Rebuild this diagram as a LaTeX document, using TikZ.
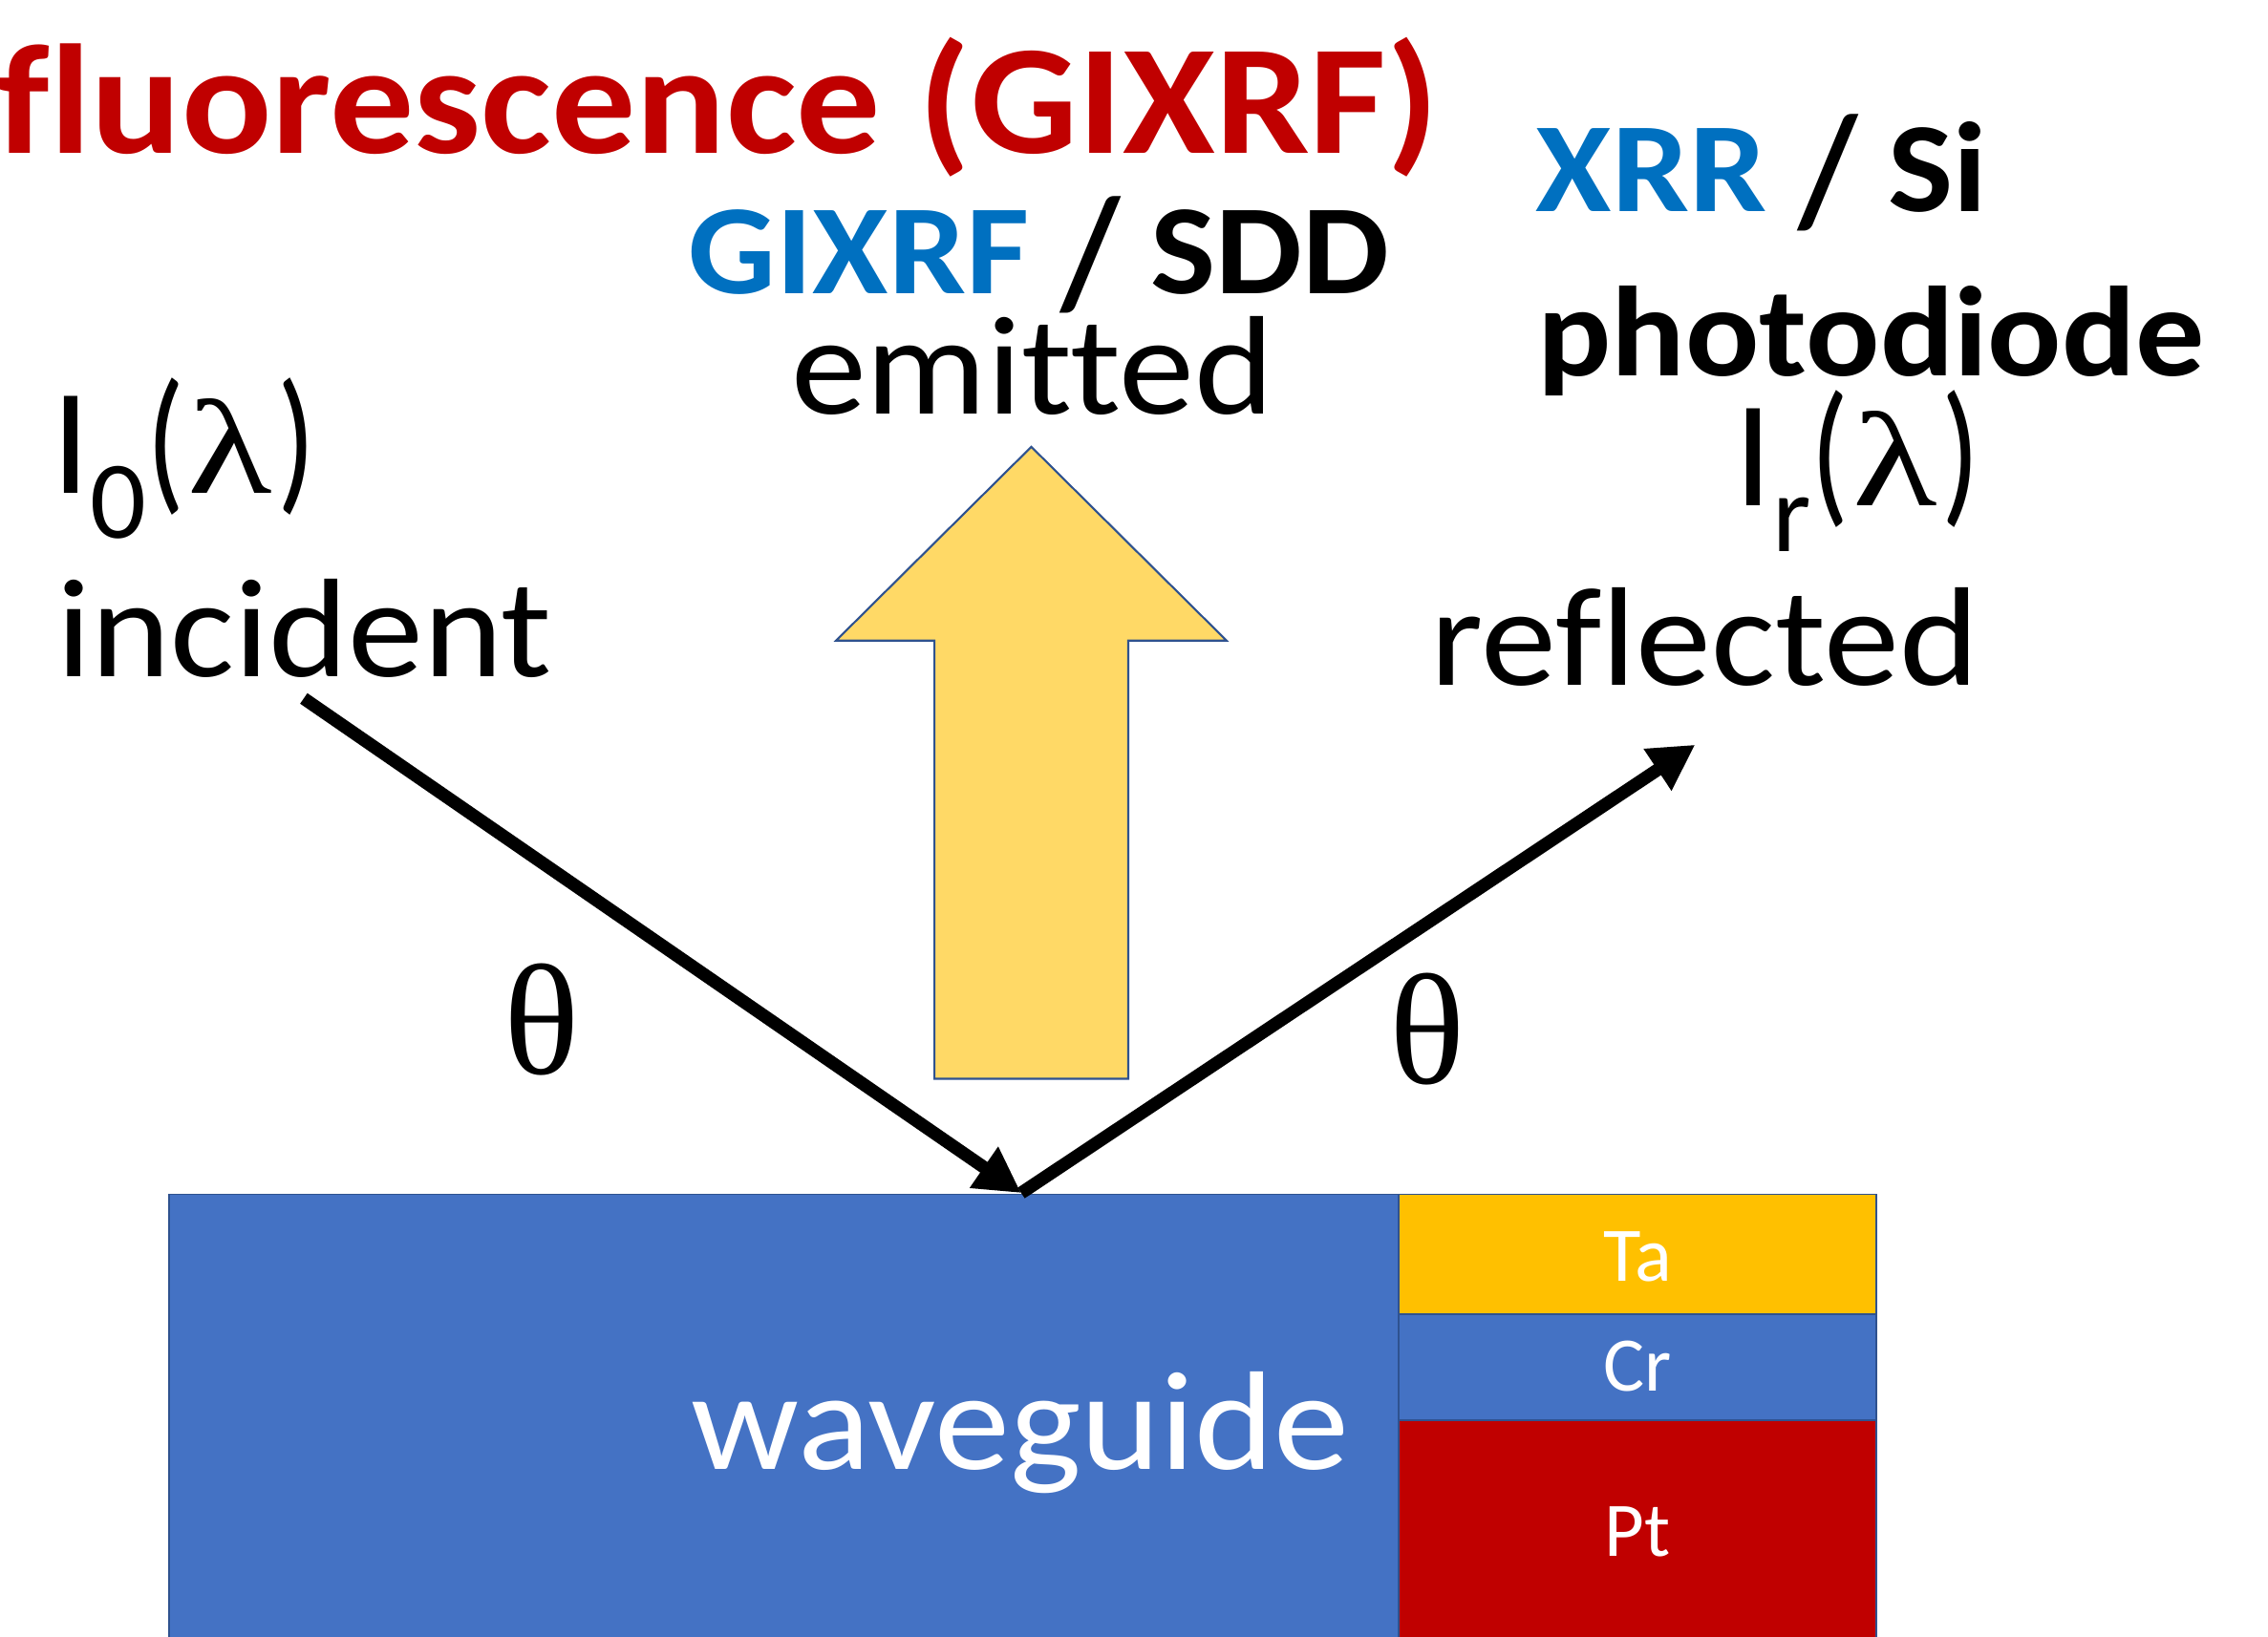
\documentclass[tikz,border=0pt]{standalone}
\usepackage{graphicx}
\usepackage{fontspec}
\setmainfont{Carlito}[Ligatures=NoCommon]
\newfontfamily\symf{Liberation Serif}
\usetikzlibrary{arrows.meta}
\definecolor{tred}{HTML}{C00000}
\definecolor{tblue}{HTML}{0070C0}
\definecolor{wg}{HTML}{4472C4}
\definecolor{taY}{HTML}{FFC000}
\definecolor{goldL}{HTML}{FFD966}
\definecolor{edgeB}{HTML}{2F528F}
\newcommand{\lslash}{\raisebox{-0.1em}{\scalebox{1}[1.22]{/}}}
\newcommand{\vsq}[1]{\scalebox{1}[0.93]{#1}}
\newcommand{\intens}[1]{{\fontsize{45}{50}\selectfont I\raisebox{-0.3em}{\fontsize{33}{36}\selectfont #1}\fontsize{47}{50}\selectfont\scalebox{0.8}[1]{(}\kern0.02em{\symf\fontsize{40}{50}\selectfont\scalebox{1.3}[1]{λ}}\kern0.03em\scalebox{0.8}[1]{)}}}
\tikzset{
  txt/.style={anchor=base west, inner sep=0pt, outer sep=0pt},
  big/.style={font=\fontsize{45}{50}\selectfont},
  mid/.style={font=\fontsize{41}{46}\selectfont\bfseries},
  layer/.style={draw=edgeB, line width=0.5pt},
  ray/.style={line width=3.8pt, -{Triangle[length=13.5pt,width=14pt]}},
  small/.style={anchor=base, inner sep=0pt, text=white, font=\fontsize{23}{26}\selectfont},
  greek/.style={anchor=base west, inner sep=0pt, font=\symf\fontsize{47}{50}\selectfont},
}
\begin{document}
\begin{tikzpicture}[x=0.01514cm,y=-0.01514cm]
\useasboundingbox (0,0) rectangle (1568,1132);
% layers
\path[layer, fill=wg] (117,826) rectangle (967,1140);
\path[layer, fill=taY] (967,826) rectangle (1297,909);
\path[layer, fill=wg] (967,909) rectangle (1297,982);
\path[layer, fill=tred] (967,982) rectangle (1297,1140);
\node[txt, big, text=white] (wgl) at (478,1016) {\vsq{waveguide}};
\node[small] (ta) at (1132,886) {Ta};
\node[small] (cr) at (1132,962) {Cr};
\node[small] (pt) at (1132,1076) {Pt};
% emitted arrow
\path[draw=edgeB, line width=0.6pt, fill=goldL] (713,309) -- (848,443) -- (780,443) -- (780,746) -- (646,746) -- (646,443) -- (578,443) -- cycle;
% texts
\node[txt, text=tred, font=\fontsize{50}{55}\selectfont\bfseries] (title) at (-2,106) {\vsq{fluorescence (GIXRF)}};
\node[txt, mid] (gixrf) at (476,203) {\vsq{\textcolor{tblue}{GIXRF} \lslash\ SDD}};
\node[txt, big] (emit) at (547,286) {\vsq{emitted}};
\node[txt, mid] (xrr) at (1062,146) {\vsq{\textcolor{tblue}{XRR} \lslash\ Si}};
\node[txt, mid] (pd) at (1063,260) {\vsq{photodiode}};
\node[txt, big] (inc) at (39,468) {\vsq{incident}};
\node[txt, big] (refl) at (989,474) {\vsq{reflected}};
\node[txt] (i0) at (36,341) {\intens{0}};
\node[txt] (ir) at (1199,350) {\intens{r}};
\node[greek] (th1) at (348,743) {θ};
\node[greek] (th2) at (960,749) {θ};
% rays
\coordinate (src) at (210,483);
\coordinate (hit) at (706,825);
\coordinate (det) at (1172,515);
\draw[ray] (src) -- (hit);
\draw[ray] (hit) -- (det);
\end{tikzpicture}
\end{document}
